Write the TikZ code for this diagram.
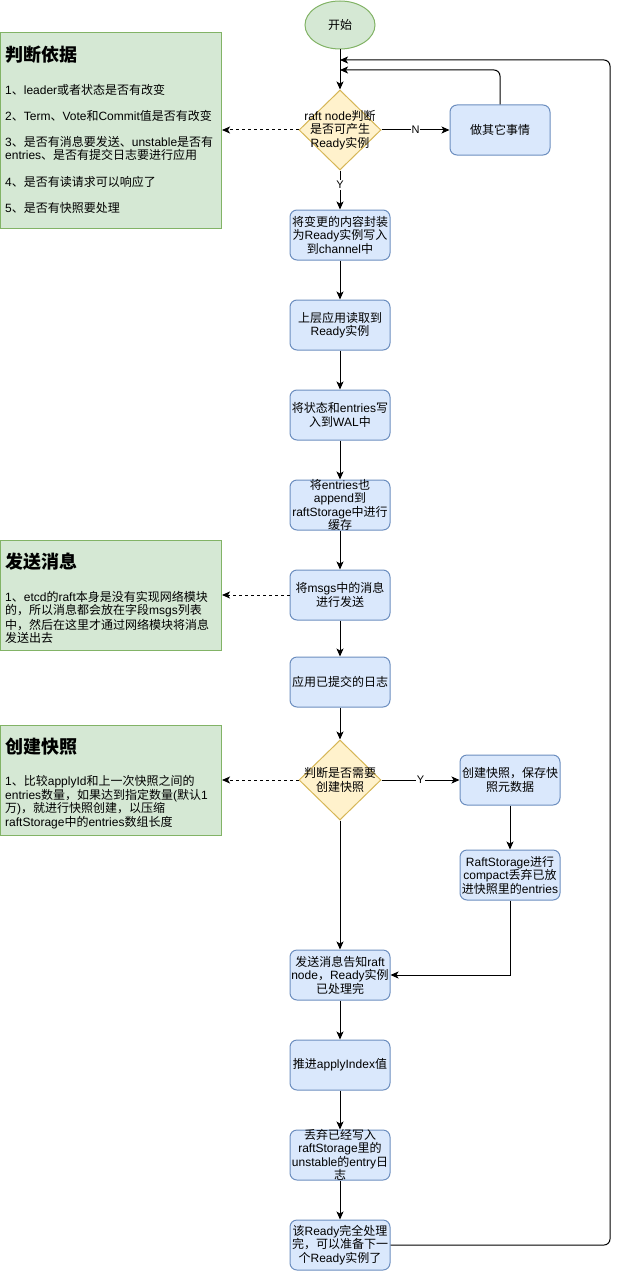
\documentclass[tikz,border=0pt]{standalone}
\usepackage{fontspec}
\setmainfont{Liberation Sans}
\newfontfamily\cjkfont{Noto Sans CJK SC}
\XeTeXinterchartokenstate=1
\newXeTeXintercharclass\CJKcls
\newcount\cjkcnt
\def\setcjkrange#1#2{\cjkcnt=#1\relax\loop\XeTeXcharclass\cjkcnt=\CJKcls\relax\ifnum\cjkcnt<#2\relax\advance\cjkcnt by 1\relax\repeat}
\setcjkrange{"3000}{"303F}
\setcjkrange{"4E00}{"9FFF}
\setcjkrange{"FF00}{"FFEF}
\XeTeXinterchartoks 0 \CJKcls = {\cjkfont}
\XeTeXinterchartoks 4095 \CJKcls = {\cjkfont}
\XeTeXinterchartoks \CJKcls 0 = {\rmfamily}
\XeTeXinterchartoks \CJKcls 4095 = {\rmfamily}
\usetikzlibrary{shapes.geometric,arrows.meta}
\definecolor{gfill}{HTML}{D5E8D4}
\definecolor{gstroke}{HTML}{82B366}
\definecolor{bfill}{HTML}{DAE8FC}
\definecolor{bstroke}{HTML}{6C8EBF}
\definecolor{yfill}{HTML}{FFF2CC}
\definecolor{ystroke}{HTML}{D6B656}
\begin{document}
\begin{tikzpicture}[x=1pt,y=-1pt,
  every node/.style={font=\fontsize{12}{13.5}\selectfont},
  box/.style={draw=bstroke, fill=bfill, rounded corners=7, minimum width=100, minimum height=50, inner sep=0, line width=1pt},
  lbl/.style={align=center, inner sep=0, font=\fontsize{12}{13.5}\selectfont},
  dia/.style={diamond, draw=ystroke, fill=yfill, minimum width=82, minimum height=80, inner sep=0, line width=1pt},
  note/.style={draw=gstroke, fill=gfill, line width=1pt, minimum width=221, anchor=north west, inner sep=0},
  ln/.style={anchor=west, inner sep=0},
  ttl/.style={anchor=west, inner sep=0, font=\fontsize{18}{20}\selectfont\bfseries},
  arr/.style={-{Stealth[length=8pt,width=7pt,inset=2pt]}, line width=1pt},
  dsh/.style={arr, dash pattern=on 3pt off 3pt},
  yn/.style={fill=white, inner sep=1pt, font=\fontsize{11}{12}\selectfont}
]
\useasboundingbox (0,0) rectangle (619,1271);
% notes
\node[note, minimum height=196] (g1) at (0,32) {};
\node[ttl] (g1t) at (5,55) {判断依据};
\node[ln] (g1a) at (5,90) {1、leader或者状态是否有改变};
\node[ln] (g1b) at (5,116) {2、Term、Vote和Commit值是否有改变};
\node[ln] (g1c) at (5,142) {3、是否有消息要发送、unstable是否有};
\node[ln] (g1d) at (5,155) {entries、是否有提交日志要进行应用};
\node[ln] (g1e) at (5,182) {4、是否有读请求可以响应了};
\node[ln] (g1f) at (5,208) {5、是否有快照要处理};

\node[note, minimum height=110] (g2) at (0,540) {};
\node[ttl] (g2t) at (5,562) {发送消息};
\node[ln] (g2a) at (5,597) {1、etcd的raft本身是没有实现网络模块};
\node[ln] (g2b) at (5,611) {的，所以消息都会放在字段msgs列表};
\node[ln] (g2c) at (5,625) {中，然后在这里才通过网络模块将消息};
\node[ln] (g2d) at (5,638) {发送出去};

\node[note, minimum height=110] (g3) at (0,725) {};
\node[ttl] (g3t) at (5,747) {创建快照};
\node[ln] (g3a) at (5,782) {1、比较applyId和上一次快照之间的};
\node[ln] (g3b) at (5,796) {entries数量，如果达到指定数量(默认1};
\node[ln] (g3c) at (5,809) {万)，就进行快照创建，以压缩};
\node[ln] (g3d) at (5,823) {raftStorage中的entries数组长度};

% flow
\node[ellipse, draw=gstroke, fill=gfill, minimum width=70, minimum height=48, inner sep=0, line width=1pt] (start) at (340,25) {开始};
\node[dia] (d1) at (340,130) {};
\node[lbl] (d1t) at (d1) {raft node判断\\是否可产生\\Ready实例};
\node[box, label={[lbl]center:做其它事情}] (other) at (500,130) {};
\node[box, label={[lbl]center:将变更的内容封装\\为Ready实例写入\\到channel中}] (b1) at (340,235) {};
\node[box, label={[lbl]center:上层应用读取到\\Ready实例}] (b2) at (340,325) {};
\node[box, label={[lbl]center:将状态和entries写\\入到WAL中}] (b3) at (340,415) {};
\node[box, label={[lbl]center:将entries也\\append到\\raftStorage中进行\\缓存}] (b4) at (340,505) {};
\node[box, label={[lbl]center:将msgs中的消息\\进行发送}] (b5) at (340,595) {};
\node[box, label={[lbl]center:应用已提交的日志}] (b6) at (340,682) {};
\node[dia] (d2) at (340,780) {};
\node[lbl] (d2t) at (d2) {判断是否需要\\创建快照};
\node[box, label={[lbl]center:创建快照，保存快\\照元数据}] (s1) at (510,780) {};
\node[box, label={[lbl]center:RaftStorage进行\\compact丢弃已放\\进快照里的entries}] (s2) at (510,875) {};
\node[box, label={[lbl]center:发送消息告知raft\\node，Ready实例\\已处理完}] (b7) at (340,975) {};
\node[box, label={[lbl]center:推进applyIndex值}] (b8) at (340,1065) {};
\node[box, label={[lbl]center:丢弃已经写入\\raftStorage里的\\unstable的entry日\\志}] (b9) at (340,1155) {};
\node[box, label={[lbl]center:该Ready完全处理\\完，可以准备下一\\个Ready实例了}] (b10) at (340,1245) {};

\coordinate (la) at (340,70);
\coordinate (lb) at (340,60);
\coordinate (rb) at (610,60);

\draw[arr] (start) -- (d1);
\draw[arr] (d1.east) -- node[yn, pos=0.5] {N} (other.west);
\draw[dsh] (d1.west) -- (d1.west -| g1.east);
\draw[arr, rounded corners=6] (other.north) |- (la);
\draw[arr] (d1.south) -- node[yn, pos=0.375] {Y} (b1.north);
\draw[arr] (b1) -- (b2);
\draw[arr] (b2) -- (b3);
\draw[arr] (b3) -- (b4);
\draw[arr] (b4) -- (b5);
\draw[dsh] (b5.west) -- (b5.west -| g2.east);
\draw[arr] (b5) -- (b6);
\draw[arr] (b6.south) -- (d2.north);
\draw[dsh] (d2.west) -- (d2.west -| g3.east);
\draw[arr] (d2.east) -- node[yn, pos=0.5] {Y} (s1.west);
\draw[arr] (s1) -- (s2);
\draw[arr] (d2.south) -- (b7.north);
\draw[arr] (s2.south) |- (b7.east);
\draw[arr] (b7) -- (b8);
\draw[arr] (b8) -- (b9);
\draw[arr] (b9) -- (b10);
\draw[arr, rounded corners=6] (b10.east) -| (rb) -- (lb);
\end{tikzpicture}
\end{document}
